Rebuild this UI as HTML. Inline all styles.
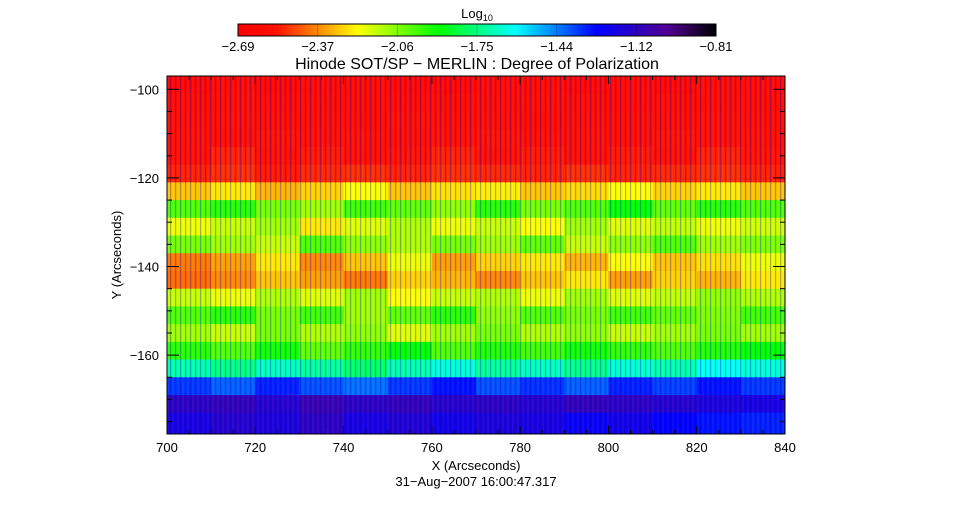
<!DOCTYPE html>
<html><head><meta charset="utf-8"><style>
body{margin:0;background:#fff;}
svg text{font-family:"Liberation Sans","DejaVu Sans",sans-serif;fill:#000;}
</style></head><body>
<svg id="chart" width="953" height="512" viewBox="0 0 953 512" xmlns="http://www.w3.org/2000/svg">
<defs>
<linearGradient id="cbar" x1="0" x2="1" y1="0" y2="0">
<stop offset="0" stop-color="#ff0000"/><stop offset="0.08" stop-color="#ff1000"/>
<stop offset="0.25" stop-color="#ffff00"/><stop offset="0.42" stop-color="#00ff00"/>
<stop offset="0.58" stop-color="#00ffff"/><stop offset="0.75" stop-color="#0000ff"/>
<stop offset="0.9" stop-color="#500090"/><stop offset="1" stop-color="#000000"/>
</linearGradient>
<clipPath id="plotclip"><rect x="167" y="76" width="618" height="358"/></clipPath>
<pattern id="stripes" width="5" height="6" patternUnits="userSpaceOnUse">
<rect x="0" y="0" width="1.2" height="6" fill="#0000c0" opacity="0.3"/>
<rect x="2.5" y="0" width="1" height="6" fill="#ffffff" opacity="0.08"/>
</pattern>
</defs>
<text x="477" y="18" text-anchor="middle" font-size="13">Log<tspan font-size="9" dy="3">10</tspan></text>
<rect x="238" y="24" width="478" height="12" fill="url(#cbar)" stroke="#000" stroke-width="1"/>
<g id="cbticks"></g>
<text x="477" y="69" text-anchor="middle" font-size="16">Hinode SOT/SP − MERLIN : Degree of Polarization</text>
<g id="cells" clip-path="url(#plotclip)"></g>
<rect x="167" y="76" width="618" height="358" fill="url(#stripes)"/>
<rect x="167" y="76" width="618" height="358" fill="none" stroke="#000" stroke-width="1"/>
<g id="axes"></g>
<text x="476" y="470" text-anchor="middle" font-size="13">X (Arcseconds)</text>
<text x="121" y="255" text-anchor="middle" font-size="13" transform="rotate(-90 121 255)">Y (Arcseconds)</text>
<text x="476" y="486" text-anchor="middle" font-size="13">31−Aug−2007 16:00:47.317</text>
</svg>
<script>
const cbTicks=["−2.69","−2.37","−2.06","−1.75","−1.44","−1.12","−0.81"];
const xTicks=[700,720,740,760,780,800,820,840];
const yTicks=[-100,-120,-140,-160];
const colX=[700,710,720,730,740,750,760,770,780,790,800,810,820,830];
const rowY=[-97,-101,-105,-109,-113,-117,-121,-125,-129,-133,-137,-141,-145,-149,-153,-157,-161,-165,-169,-173];
const grid=[
[-2.62,-2.60,-2.63,-2.61,-2.60,-2.62,-2.63,-2.61,-2.60,-2.62,-2.61,-2.62,-2.60,-2.61],
[-2.60,-2.58,-2.61,-2.59,-2.60,-2.61,-2.59,-2.60,-2.58,-2.60,-2.61,-2.60,-2.59,-2.60],
[-2.58,-2.56,-2.58,-2.57,-2.59,-2.56,-2.58,-2.57,-2.59,-2.58,-2.57,-2.58,-2.56,-2.58],
[-2.55,-2.57,-2.54,-2.56,-2.55,-2.57,-2.55,-2.54,-2.56,-2.55,-2.57,-2.54,-2.56,-2.55],
[-2.56,-2.52,-2.55,-2.53,-2.56,-2.54,-2.52,-2.55,-2.53,-2.56,-2.53,-2.55,-2.52,-2.54],
[-2.52,-2.50,-2.53,-2.51,-2.50,-2.52,-2.50,-2.51,-2.52,-2.50,-2.52,-2.51,-2.50,-2.52],
[-2.30,-2.25,-2.32,-2.28,-2.22,-2.30,-2.26,-2.24,-2.30,-2.27,-2.22,-2.28,-2.25,-2.30],
[-2.00,-1.95,-2.05,-2.10,-1.98,-2.02,-2.08,-1.95,-2.05,-2.00,-1.90,-2.02,-1.95,-2.00],
[-2.20,-2.15,-2.10,-2.25,-2.18,-2.12,-2.20,-2.15,-2.22,-2.10,-2.18,-2.14,-2.20,-2.16],
[-2.05,-2.10,-2.15,-2.00,-2.08,-2.12,-2.05,-2.10,-2.02,-2.15,-2.08,-2.00,-2.10,-2.06],
[-2.40,-2.35,-2.25,-2.38,-2.30,-2.20,-2.35,-2.28,-2.25,-2.32,-2.22,-2.30,-2.26,-2.20],
[-2.42,-2.38,-2.30,-2.35,-2.40,-2.28,-2.32,-2.38,-2.30,-2.25,-2.35,-2.28,-2.32,-2.25],
[-2.15,-2.20,-2.12,-2.18,-2.10,-2.22,-2.15,-2.12,-2.20,-2.10,-2.18,-2.14,-2.08,-2.12],
[-2.00,-1.95,-2.05,-1.98,-2.10,-2.02,-1.95,-2.08,-2.00,-2.05,-1.98,-2.02,-2.06,-1.98],
[-2.10,-2.15,-2.05,-2.12,-2.08,-2.18,-2.10,-2.05,-2.12,-2.08,-2.15,-2.10,-2.05,-2.10],
[-1.95,-2.00,-1.92,-2.02,-1.96,-1.90,-2.00,-1.94,-1.98,-1.92,-1.96,-2.00,-1.94,-1.90],
[-1.70,-1.75,-1.68,-1.72,-1.78,-1.70,-1.65,-1.72,-1.68,-1.74,-1.66,-1.70,-1.62,-1.65],
[-1.35,-1.40,-1.32,-1.38,-1.42,-1.35,-1.30,-1.38,-1.34,-1.40,-1.32,-1.36,-1.30,-1.35],
[-1.12,-1.10,-1.15,-1.08,-1.12,-1.10,-1.14,-1.12,-1.15,-1.10,-1.12,-1.15,-1.18,-1.20],
[-1.20,-1.15,-1.18,-1.12,-1.20,-1.16,-1.22,-1.18,-1.20,-1.25,-1.22,-1.28,-1.30,-1.32]
];
const NS="http://www.w3.org/2000/svg";
const X0=700,X1=840,PX0=167,PX1=785,Y0=-97,Y1=-177.8,PY0=76,PY1=434;
const vMin=-2.69,vMax=-0.81;
function sx(v){return PX0+(v-X0)/(X1-X0)*(PX1-PX0);}
function sy(v){return PY0+(v-Y0)/(Y1-Y0)*(PY1-PY0);}
const stops=[[0,[255,0,0]],[0.08,[255,16,0]],[0.25,[255,255,0]],[0.42,[0,255,0]],[0.58,[0,255,255]],[0.75,[0,0,255]],[0.9,[80,0,144]],[1,[0,0,0]]];
function cmap(v){let t=Math.max(0,Math.min(1,(v-vMin)/(vMax-vMin)));
for(let i=1;i<stops.length;i++){if(t<=stops[i][0]){const a=stops[i-1],b=stops[i];const f=(t-a[0])/(b[0]-a[0]);
return "rgb("+a[1].map((c,k)=>Math.round(c+(b[1][k]-c)*f)).join(",")+")";}}return "#000";}
function mk(tag,attrs,parent){const e=document.createElementNS(NS,tag);for(const k in attrs)e.setAttribute(k,attrs[k]);parent.appendChild(e);return e;}
const cells=document.getElementById('cells');
rowY.forEach((yv,r)=>{
  const ya=sy(yv), yb=r<rowY.length-1?sy(rowY[r+1]):PY1;
  colX.forEach((xv,c)=>{
    const xa=sx(xv), xb=sx(xv+10);
    const e=mk('rect',{x:xa,y:ya,width:xb-xa+0.5,height:yb-ya+0.5,fill:cmap(grid[r][c])},cells);
    
    
  });
});
const cb=document.getElementById('cbticks');
cbTicks.forEach((t,i)=>{
  const x=238+i*(478/(cbTicks.length-1));
  const tx=mk('text',{x:x,y:51,'text-anchor':'middle','font-size':13},cb);tx.textContent=t;
  
  
  if(i>0&&i<cbTicks.length-1)mk('line',{x1:x,x2:x,y1:24,y2:36,stroke:'#000','stroke-width':0.6,opacity:0.4},cb);
});
const ax=document.getElementById('axes');
for(let v=X0;v<=X1;v+=5){const x=sx(v),maj=(v%20===0);
  mk('line',{x1:x,x2:x,y1:PY1,y2:PY1-(maj?8:4),stroke:'#000'},ax);
  mk('line',{x1:x,x2:x,y1:PY0,y2:PY0+(maj?8:4),stroke:'#000'},ax);}
xTicks.forEach(v=>{const t=mk('text',{x:sx(v),y:452,'text-anchor':'middle','font-size':13},ax);t.textContent=v;
  
  });
for(let v=-100;v>=-175;v-=5){const y=sy(v),maj=(v%20===0);
  mk('line',{x1:PX0,x2:PX0+(maj?12:5),y1:y,y2:y,stroke:'#000'},ax);
  mk('line',{x1:PX1,x2:PX1-(maj?12:5),y1:y,y2:y,stroke:'#000'},ax);}
yTicks.forEach(v=>{const t=mk('text',{x:159,y:sy(v)+5,'text-anchor':'end','font-size':13},ax);t.textContent="−"+Math.abs(v);
  
  });
</script>
</body></html>
